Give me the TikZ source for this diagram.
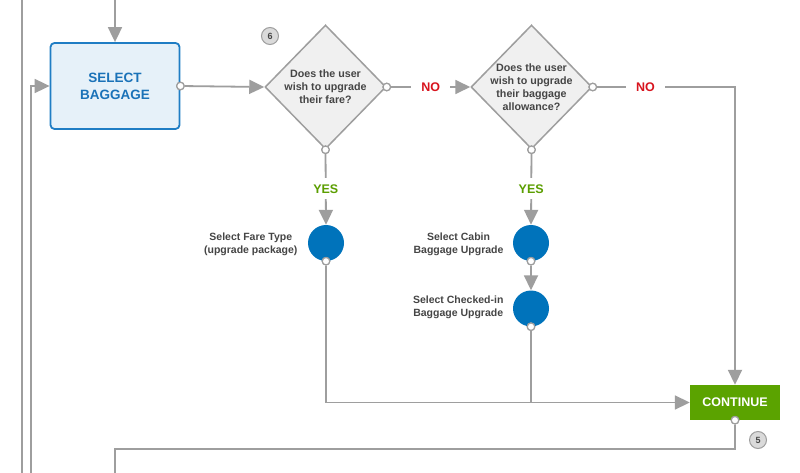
\documentclass[tikz,border=0pt]{standalone}
\usepackage{fontspec}
\setmainfont{Liberation Sans}
\usetikzlibrary{shapes.geometric,arrows.meta}
\definecolor{lgrey}{HTML}{9E9E9E}
\definecolor{dfill}{HTML}{F0F0F0}
\definecolor{bbord}{HTML}{1F7DC4}
\definecolor{bfill}{HTML}{E6F1F9}
\definecolor{btext}{HTML}{1A72B8}
\definecolor{dot}{HTML}{0073BB}
\definecolor{nored}{HTML}{D8141E}
\definecolor{yesgreen}{HTML}{5B9E00}
\definecolor{contgreen}{HTML}{5BA300}
\definecolor{txt}{HTML}{454545}
\definecolor{badgefill}{HTML}{DADADA}
\tikzset{
  conn/.style={draw=lgrey, line width=1.8pt},
  arr/.style={conn, -{Triangle[length=15pt,width=14pt]}},
  port/.style={circle, draw=lgrey, fill=white, line width=1.2pt, minimum size=7.5pt, inner sep=0pt},
  decision/.style={diamond, draw=lgrey, fill=dfill, line width=1.5pt, minimum width=121pt, minimum height=124pt, inner sep=0pt},
  dtext/.style={font=\fontsize{10.7}{13}\selectfont\bfseries, text=txt, align=center},
  ltext/.style={font=\fontsize{10.5}{13}\selectfont\bfseries, text=txt, align=center, anchor=east},
  bluedot/.style={circle, fill=dot, minimum size=36pt, inner sep=0pt},
  nolab/.style={font=\fontsize{12.5}{14}\selectfont\bfseries, text=nored, fill=white, inner xsep=10pt, inner ysep=2pt},
  yeslab/.style={font=\fontsize{12.5}{14}\selectfont\bfseries, text=yesgreen, fill=white, inner xsep=2pt, inner ysep=6pt},
  badge/.style={circle, draw=lgrey, fill=badgefill, line width=1pt, minimum size=17pt, inner sep=0pt, font=\fontsize{9}{10}\selectfont\bfseries, text=txt},
}
\begin{document}
\begin{tikzpicture}[x=1pt,y=-1pt]
\useasboundingbox[fill=white] (0,0) rectangle (800,473);
% free ends
\coordinate (topin) at (115,0);
\coordinate (leftA) at (22,0);
\coordinate (leftAb) at (22,473);
\coordinate (leftB) at (31,473);
\coordinate (botend) at (115,473);
% nodes
\node[draw=bbord, fill=bfill, line width=1.8pt, rounded corners=4pt, minimum width=129pt, minimum height=86pt,
      font=\fontsize{13.5}{17}\selectfont\bfseries, text=btext, align=center] (sel) at (115,86) {SELECT\\BAGGAGE};
\node[decision] (d1) at (325.5,87) {};
\node[dtext] (d1t) at (325.5,86.5) {Does the user\\wish to upgrade\\their fare?};
\node[decision] (d2) at (531.5,87) {};
\node[dtext] (d2t) at (531.5,87) {Does the user\\wish to upgrade\\their baggage\\allowance?};
\node[bluedot] (c1) at (326,243) {};
\node[bluedot] (c2) at (531,243) {};
\node[bluedot] (c3) at (531,308.5) {};
\node[ltext] (l1) at (301,244.5) {Select Fare Type\\(upgrade package)};
\node[ltext] (l2) at (507,244.5) {Select Cabin\\Baggage Upgrade};
\node[ltext] (l3) at (507,307) {Select Checked-in\\Baggage Upgrade};
\node[fill=contgreen, minimum width=90pt, minimum height=35pt, inner sep=0pt,
      font=\fontsize{12.5}{14}\selectfont\bfseries, text=white] (cont) at (735,402.5) {CONTINUE};
\node[badge] (b6) at (270,36) {6};
\node[badge] (b5) at (758,440) {5};
% ports
\node[port] (selo) at (sel.east) {};
\node[port] (d1r) at (d1.east) {};
\node[port] (d1b) at (d1.south) {};
\node[port] (d2r) at (d2.east) {};
\node[port] (d2b) at (d2.south) {};
\node[port] (c1o) at (c1.south) {};
\node[port] (c2o) at (c2.south) {};
\node[port] (c3o) at (c3.south) {};
\node[port] (conto) at (cont.south) {};
\coordinate (turnR) at (735,87);
\coordinate (turnB) at (735,449);
\coordinate (turnB2) at (115,449);
\coordinate (j1) at (326,402.5);
\coordinate (lB) at (31,86);
% connectors
\draw[conn] (leftA) -- (leftAb);
\draw[arr] (topin) -- (sel.north);
\draw[arr] (leftB) -- (lB) -- (sel.west);
\draw[arr] (selo) -- (d1.west);
\draw[arr] (d1r) -- (d2.west) node[pos=0.5, nolab] (no1) {NO};
\draw[arr] (d2r) -- (turnR) node[pos=0.35, nolab] (no2) {NO} -- (cont.north);
\draw[arr] (d1b) -- (c1.north) node[pos=0.49, yeslab] (y1) {YES};
\draw[arr] (d2b) -- (c2.north) node[pos=0.49, yeslab] (y2) {YES};
\draw[arr] (c2o) -- (c3.north);
\draw[arr] (c1o) -- (j1) -- (cont.west);
\draw[conn] (c3o) -- (c3o |- cont.west);
\draw[conn] (conto) -- (turnB) -- (turnB2) -- (botend);
% redraw ports on top
\foreach \p in {selo,d1r,d1b,d2r,d2b,c1o,c2o,c3o,conto}{\node[port] at (\p) {};}
\end{tikzpicture}
\end{document}
